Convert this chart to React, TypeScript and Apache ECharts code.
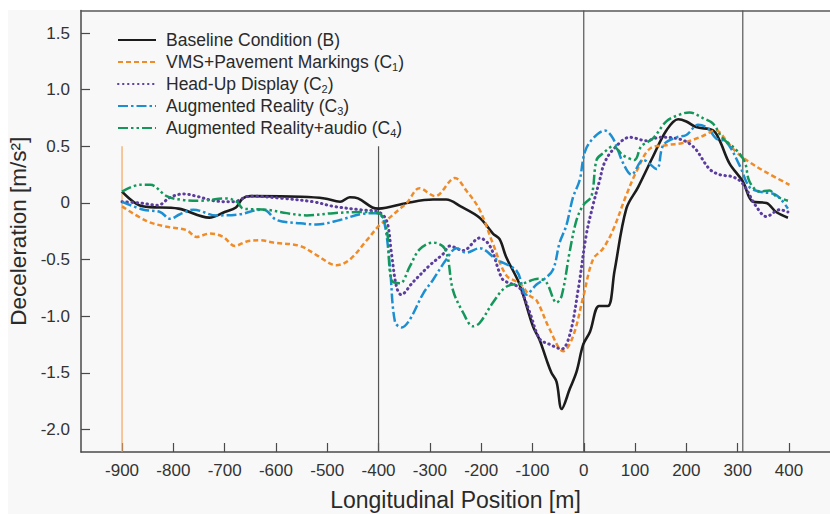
import React, { useEffect, useRef } from 'react';
import * as echarts from 'echarts';

const FONT = '"Liberation Sans", Arial, Helvetica, sans-serif';

// Tick labels
const xTicks = [-900, -800, -700, -600, -500, -400, -300, -200, -100, 0, 100, 200, 300, 400];
const yTicks = [-2, -1.5, -1, -0.5, 0, 0.5, 1, 1.5];

// Series names
const seriesNames = [
  'Baseline Condition (B)',
  'VMS+Pavement Markings (C1)',
  'Head-Up Display (C2)',
  'Augmented Reality (C3)',
  'Augmented Reality+audio (C4)',
];

// Baseline Condition (B)
const baseX = [-900, -860, -790, -730, -700, -678, -665, -650, -550, -505, -475, -456, -440, -412, -400, -345, -294, -268, -240, -203, -177, -164, -151, -125, -99, -86, -73, -63, -53, -43, -27, -14, -1, 12, 30, 47, 60, 83, 106, 135, 161, 184, 200, 219, 252, 265, 284, 310, 330, 356, 375, 398];
const baseY = [0.10, -0.03, -0.05, -0.13, -0.08, -0.04, 0.04, 0.06, 0.055, 0.04, 0.01, 0.05, 0.04, -0.04, -0.05, 0.0, 0.03, 0.03, -0.03, -0.13, -0.27, -0.32, -0.48, -0.72, -1.09, -1.21, -1.38, -1.5, -1.58, -1.82, -1.64, -1.49, -1.25, -1.14, -0.91, -0.91, -0.6, -0.05, 0.14, 0.41, 0.64, 0.74, 0.72, 0.67, 0.64, 0.55, 0.35, 0.19, 0.01, 0.0, -0.08, -0.13];

// VMS+Pavement Markings (C1)
const vmsX = [-900, -852, -813, -774, -755, -729, -703, -680, -657, -631, -605, -553, -521, -482, -456, -423, -397, -384, -358, -345, -320, -290, -251, -229, -203, -177, -151, -125, -105, -92, -66, -40, -21, -1, 18, 38, 57, 83, 103, 129, 161, 193, 226, 258, 278, 297, 323, 356, 401];
const vmsY = [-0.03, -0.16, -0.21, -0.24, -0.30, -0.27, -0.30, -0.38, -0.34, -0.33, -0.35, -0.38, -0.46, -0.55, -0.50, -0.33, -0.19, -0.15, -0.05, 0.0, 0.13, 0.06, 0.22, 0.11, -0.06, -0.36, -0.64, -0.71, -0.82, -0.86, -1.12, -1.31, -1.18, -0.83, -0.50, -0.40, -0.24, 0.07, 0.28, 0.48, 0.51, 0.53, 0.58, 0.64, 0.55, 0.45, 0.36, 0.27, 0.16];

// Head-Up Display (C2)
const hudX = [-900, -865, -830, -806, -780, -755, -722, -683, -651, -586, -527, -488, -436, -400, -384, -375, -365, -356, -333, -300, -274, -261, -235, -203, -183, -164, -157, -138, -125, -105, -86, -66, -43, -27, -11, 5, 18, 31, 40, 57, 90, 122, 148, 181, 213, 245, 265, 291, 310, 336, 356, 382, 398];
const hudY = [0.01, 0.0, -0.02, 0.05, 0.08, 0.06, 0.02, 0.01, 0.06, 0.04, 0.01, -0.03, -0.06, -0.08, -0.16, -0.44, -0.74, -0.81, -0.70, -0.55, -0.45, -0.38, -0.42, -0.31, -0.38, -0.62, -0.68, -0.72, -0.75, -0.97, -1.20, -1.25, -1.29, -1.16, -0.77, -0.28, -0.02, 0.2, 0.35, 0.47, 0.58, 0.55, 0.58, 0.57, 0.50, 0.30, 0.25, 0.23, 0.17, -0.03, -0.12, -0.06, -0.08];

// Augmented Reality (C3)
const arX = [-900, -858, -826, -806, -787, -761, -716, -670, -631, -618, -599, -553, -521, -475, -436, -404, -390, -378, -368, -355, -339, -313, -294, -268, -248, -229, -203, -170, -131, -112, -92, -79, -60, -47, -34, -21, -8, 2, 18, 41, 57, 77, 93, 116, 142, 155, 181, 200, 223, 242, 258, 278, 304, 323, 343, 375, 398];
const arY = [0.01, -0.06, -0.08, -0.14, -0.10, -0.06, -0.11, -0.10, -0.06, -0.07, -0.15, -0.18, -0.19, -0.15, -0.10, -0.09, -0.15, -0.56, -1.05, -1.10, -1.03, -0.80, -0.68, -0.50, -0.40, -0.44, -0.40, -0.50, -0.60, -0.81, -0.72, -0.68, -0.59, -0.35, -0.20, 0.05, 0.2, 0.45, 0.57, 0.64, 0.57, 0.35, 0.25, 0.38, 0.30, 0.51, 0.58, 0.60, 0.69, 0.66, 0.57, 0.54, 0.33, 0.14, 0.10, 0.07, -0.05];

// Augmented Reality+audio (C4)
const araX = [-900, -865, -845, -813, -787, -748, -696, -676, -664, -618, -579, -540, -488, -436, -400, -384, -375, -358, -339, -320, -294, -270, -255, -235, -216, -203, -177, -151, -118, -89, -73, -53, -43, -27, -14, -1, 15, 25, 38, 57, 77, 99, 112, 135, 161, 187, 206, 232, 252, 271, 297, 314, 323, 343, 362, 375, 398];
const araY = [0.10, 0.16, 0.16, 0.06, 0.03, 0.02, 0.04, 0.01, -0.05, -0.06, -0.09, -0.11, -0.09, -0.08, -0.09, -0.24, -0.68, -0.71, -0.56, -0.41, -0.35, -0.41, -0.77, -0.97, -1.09, -1.06, -0.88, -0.74, -0.71, -0.67, -0.70, -0.88, -0.82, -0.42, -0.15, -0.02, 0.06, 0.38, 0.44, 0.50, 0.42, 0.38, 0.50, 0.57, 0.72, 0.78, 0.80, 0.75, 0.70, 0.57, 0.47, 0.36, 0.19, 0.10, 0.11, 0.06, 0.02];

// Vertical reference lines: x position and top value
const refLinesX = [-900, -400, 0, 310];
const refLinesTop = [0.5, 0.5, 1.7, 1.7];

const zip = (xs: number[], ys: number[]) => xs.map((x, i) => [x, ys[i]]);

const X_MIN = -980;
const X_MAX = 480;
const Y_MIN = -2.2;
const Y_MAX = 1.7;

const lineSeries = (name: string, data: number[][], color: string, width: number, type: any, cap: string = 'butt') => ({
  name,
  type: 'line',
  data,
  symbol: 'none',
  smooth: 0.35,
  z: 5,
  lineStyle: { color, width, type, cap },
  itemStyle: { color },
});

const refSeries = refLinesX.map((x, i) => ({
  name: 'ref' + i,
  type: 'line',
  data: [[x, Y_MIN], [x, refLinesTop[i]]],
  symbol: 'none',
  silent: true,
  z: 1,
  lineStyle: { color: i === 0 ? '#f2a65e' : '#555555', width: 1.2 },
}));

const option: any = {
  animation: false,
  backgroundColor: 'transparent',
  textStyle: { fontFamily: FONT },
  grid: { left: 81, top: 10.5, right: 0, bottom: 62, containLabel: false, outerBoundsMode: 'none' },
  legend: {
    data: seriesNames,
    orient: 'vertical',
    left: 117,
    top: 30,
    padding: 0,
    itemWidth: 38,
    itemHeight: 14,
    itemGap: 2,
    itemStyle: { opacity: 0 },
    formatter: (name: string) => name.replace(/\(C(\d)\)/, '(C{sub|$1})'),
    textStyle: {
      fontFamily: FONT,
      fontSize: 17.5,
      color: '#2a2a2a',
      lineHeight: 20,
      padding: [0, 0, 0, 5],
      rich: {
        sub: { fontFamily: FONT, fontSize: 11, color: '#2a2a2a', verticalAlign: 'bottom', lineHeight: 16 },
      },
    },
  },
  xAxis: [
    {
      type: 'value',
      min: X_MIN,
      max: X_MAX,
      position: 'bottom',
      name: 'Longitudinal Position [m]',
      nameLocation: 'middle',
      nameGap: 36,
      nameTextStyle: { fontFamily: FONT, fontSize: 23, color: '#2a2a2a' },
      axisLine: { show: true, onZero: false, lineStyle: { color: '#4a4a4a', width: 1.5 } },
      axisTick: { show: true, inside: true, length: 9, customValues: xTicks, lineStyle: { color: '#4a4a4a', width: 1.2 } },
      axisLabel: { customValues: xTicks, margin: 10, fontFamily: FONT, fontSize: 17, color: '#333333' },
      splitLine: { show: false },
    },
    {
      type: 'value',
      min: X_MIN,
      max: X_MAX,
      position: 'top',
      axisLine: { show: true, onZero: false, lineStyle: { color: '#5a5a5a', width: 1.5 } },
      axisTick: { show: false },
      axisLabel: { show: false },
      splitLine: { show: false },
    },
  ],
  yAxis: {
    type: 'value',
    min: Y_MIN,
    max: Y_MAX,
    name: 'Deceleration [m/s²]',
    nameLocation: 'middle',
    nameGap: 47,
    nameRotate: 90,
    nameTextStyle: { fontFamily: FONT, fontSize: 22.5, color: '#2a2a2a' },
    axisLine: { show: true, onZero: false, lineStyle: { color: '#4a4a4a', width: 1.5 } },
    axisTick: { show: true, inside: true, length: 9, customValues: yTicks, lineStyle: { color: '#4a4a4a', width: 1.2 } },
    axisLabel: {
      customValues: yTicks,
      margin: 11,
      fontFamily: FONT,
      fontSize: 17,
      color: '#333333',
      formatter: (v: number) => (Math.abs(v) < 1e-9 ? '0' : v.toFixed(1)),
    },
    splitLine: { show: false },
  },
  series: [
    ...refSeries,
    lineSeries(seriesNames[0], zip(baseX, baseY), '#1c1c1c', 2.6, 'solid'),
    lineSeries(seriesNames[1], zip(vmsX, vmsY), '#f08c28', 2.5, [5, 3]),
    lineSeries(seriesNames[2], zip(hudX, hudY), '#5a3d9e', 3, [0.5, 4.5], 'round'),
    lineSeries(seriesNames[3], zip(arX, arY), '#1b8fd2', 2.5, [10, 3, 2.5, 3]),
    lineSeries(seriesNames[4], zip(araX, araY), '#14975a', 2.5, [10, 3, 2.5, 3, 2.5, 3]),
  ],
};

export default function App() {
  const ref = useRef<HTMLDivElement>(null);
  useEffect(() => {
    document.body.style.margin = '0';
    document.body.style.overflow = 'hidden';
    if (!ref.current) return;
    const chart = echarts.init(ref.current, null, { renderer: 'svg' });
    chart.setOption(option);
    return () => chart.dispose();
  }, []);
  return (
    <div
      ref={ref}
      style={{
        width: 830,
        height: 514,
        background:
          'linear-gradient(to bottom, #ffffff 10px, rgba(255,255,255,0) 10px), linear-gradient(to right, #ffffff 8px, #f8f8f8 8px)',
      }}
    />
  );
}
